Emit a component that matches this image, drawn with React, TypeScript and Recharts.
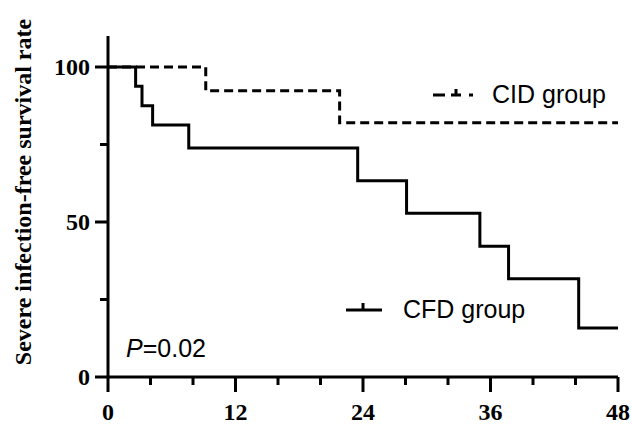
import { LineChart, Line, XAxis, YAxis } from 'recharts'

// Kaplan-Meier steps (months, % event-free)
const cfdMonths = [0, 2.6, 3.2, 4.2, 7.6, 23.5, 28.1, 35.0, 37.7, 44.3, 48]
const cfdRate = [100, 93.8, 87.5, 81.3, 73.9, 63.3, 52.8, 42.2, 31.7, 15.8, 15.8]
const cidMonths = [0, 9.2, 21.8, 48]
const cidRate = [100, 92.3, 82.0, 82.0]

const xTicks = [0, 4, 8, 12, 16, 20, 24, 28, 32, 36, 40, 44, 48]
const xLabelTicks = [0, 12, 24, 36, 48]
const yTicks = [0, 25, 50, 75, 100]
const yLabelTicks = [0, 50, 100]

const cfdData = cfdMonths.map((t, i) => ({ t, rate: cfdRate[i] }))
const cidData = cidMonths.map((t, i) => ({ t, rate: cidRate[i] }))

const serif = '"Liberation Serif", "Times New Roman", serif'
const sans = '"Liberation Sans", Arial, sans-serif'

const XTick = (props: any) => {
  const { x, y, payload } = props
  const major = xLabelTicks.includes(payload.value)
  return (
    <g>
      <line x1={x} x2={x} y1={y} y2={y + (major ? 15 : 8)} stroke="#000" strokeWidth={3} />
      {major && (
        <text x={x} y={y + 43} textAnchor="middle" fontFamily={serif} fontWeight="bold" fontSize={24} fill="#000">
          {payload.value}
        </text>
      )}
    </g>
  )
}

const YTick = (props: any) => {
  const { x, y, payload } = props
  const major = yLabelTicks.includes(payload.value)
  return (
    <g>
      <line x1={x} x2={x - (major ? 13 : 8)} y1={y} y2={y} stroke="#000" strokeWidth={3} />
      {major && (
        <text x={x - 18} y={y + 8} textAnchor="end" fontFamily={serif} fontWeight="bold" fontSize={24} fill="#000">
          {payload.value}
        </text>
      )}
    </g>
  )
}

export default function App() {
  return (
    <div style={{ position: 'absolute', left: 0, top: 0, width: 632, height: 428, background: '#fff' }}>
      <LineChart width={632} height={428} margin={{ top: 36, right: 14, bottom: 11, left: 8 }}>
        <XAxis
          type="number"
          dataKey="t"
          domain={[0, 48]}
          ticks={xTicks}
          interval={0}
          height={40}
          axisLine={{ stroke: '#000', strokeWidth: 3 }}
          tickLine={false}
          tickSize={0}
          tickMargin={0}
          tick={<XTick />}
          allowDuplicatedCategory={false}
        />
        <YAxis
          type="number"
          domain={[0, 110]}
          ticks={yTicks}
          interval={0}
          width={100}
          axisLine={{ stroke: '#000', strokeWidth: 3 }}
          tickLine={false}
          tickSize={0}
          tickMargin={0}
          tick={<YTick />}
        />
        <Line
          data={cidData}
          dataKey="rate"
          type="stepAfter"
          stroke="#000"
          strokeWidth={3}
          strokeDasharray="9 5"
          dot={false}
          isAnimationActive={false}
        />
        <Line
          data={cfdData}
          dataKey="rate"
          type="stepAfter"
          stroke="#000"
          strokeWidth={3}
          dot={false}
          isAnimationActive={false}
        />
      </LineChart>
      <svg width={632} height={428} style={{ position: 'absolute', left: 0, top: 0, pointerEvents: 'none' }}>
        <text
          transform="translate(31,192) rotate(-90)"
          textAnchor="middle"
          fontFamily={serif}
          fontWeight="bold"
          fontSize={24}
          fill="#000"
        >
          Severe infection-free survival rate
        </text>
        <line x1={433} x2={473} y1={95} y2={95} stroke="#000" strokeWidth={3} strokeDasharray="12 6 10 8 4" />
        <line x1={456} x2={456} y1={89} y2={95} stroke="#000" strokeWidth={3} />
        <text x={492} y={103} fontFamily={sans} fontSize={25} fill="#000">CID group</text>
        <line x1={346} x2={382} y1={310} y2={310} stroke="#000" strokeWidth={3} />
        <line x1={363} x2={363} y1={303} y2={310} stroke="#000" strokeWidth={3} />
        <text x={403} y={318} fontFamily={sans} fontSize={25} fill="#000">CFD group</text>
        <text x={126} y={357} fontFamily={sans} fontSize={25} fill="#000">
          <tspan fontStyle="italic">P</tspan>=0.02
        </text>
      </svg>
    </div>
  )
}
